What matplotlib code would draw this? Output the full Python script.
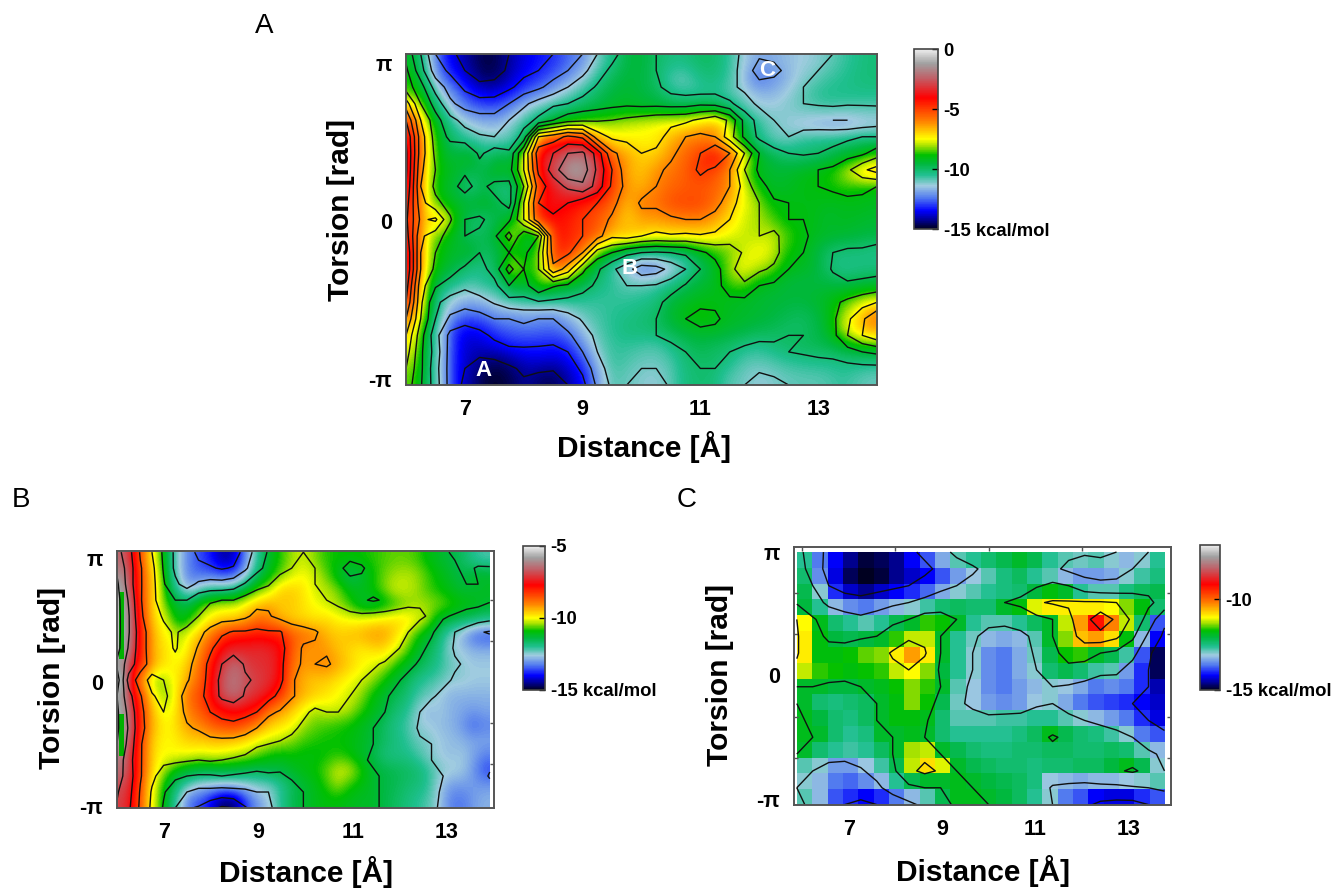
import numpy as np
import matplotlib
matplotlib.use('Agg')
import matplotlib.pyplot as plt
from matplotlib.colors import LinearSegmentedColormap, Normalize

plt.rcParams['font.family'] = ['Liberation Sans', 'DejaVu Sans']
plt.rcParams['contour.negative_linestyle'] = 'solid'

W, H = 1342, 890

# free energy, rows run from +pi (top) to -pi (bottom)
energy_a = np.array([
    [-9.3,-11,-13,-13.8,-14.3,-14.8,-14.6,-14,-13.6,-13.3,-13,-12.5,-12,-11,-10.3,-9.6,-9.5,-10,-10.3,-10.3,-10,-10,-10.5,-11.3,-11.8,-11.8,-11.6,-11.4,-11.3,-11,-10.7,-10.4,-10.2],
    [-8.8,-10.6,-12.5,-13.2,-14,-14.6,-14.5,-13.8,-13.3,-13,-12.5,-12,-11.3,-10.4,-9.8,-9.5,-9.6,-10,-10.8,-11,-10.4,-10.2,-10.6,-11.4,-12.5,-12.2,-11.8,-11.3,-11,-10.7,-10.5,-10.3,-10.2],
    [-8.5,-9.6,-11.4,-12.4,-13.2,-13.7,-13.6,-13.2,-12.6,-12.2,-11.6,-11,-10.4,-9.9,-9.5,-9.4,-9.6,-9.8,-10.4,-10.6,-10.6,-10.5,-10.8,-11.2,-11.6,-11.7,-11.4,-11,-10.6,-10.4,-10.4,-10.4,-10.4],
    [-6.5,-9,-10.4,-11.8,-12.4,-12.6,-12.6,-12,-11.2,-10.6,-10.2,-10,-9.7,-9.5,-9.3,-9.2,-9.3,-9.3,-9.4,-9.4,-9.2,-9.3,-9.8,-10.6,-11.2,-11.3,-11.2,-11,-10.9,-10.8,-10.9,-10.9,-10.9],
    [-5,-8,-9.6,-10.7,-11.3,-11.6,-11.6,-11,-10.4,-9.8,-9,-8.4,-8.2,-8.1,-8,-7.8,-7.6,-7.4,-7.3,-7.2,-6.8,-6.3,-7.2,-9.3,-10.4,-11,-11.3,-11.6,-11.8,-12,-12,-11.8,-11.6],
    [-4,-7.5,-9.4,-10.2,-10.6,-10.9,-11,-10.8,-9.6,-5,-4.5,-3.8,-4.2,-6.5,-7.2,-7.3,-7.4,-7.4,-6.6,-6,-5.8,-6,-7.6,-9.2,-10.2,-10.8,-11,-10.6,-10.4,-10.3,-10.2,-10,-10],
    [-3.8,-7.5,-9.2,-9.5,-9,-10.2,-9.5,-9.8,-7,-3.4,-3,-2,-1.8,-3.4,-5.8,-6.4,-7,-6.8,-6.2,-5.6,-5,-4,-5,-7,-9,-9.6,-10,-10.1,-10,-9.8,-9.4,-9.2,-8.5],
    [-3.8,-7.8,-9,-9.3,-9.8,-9.6,-9,-9.4,-7,-3.8,-2.6,-1,-1.4,-3.2,-5,-6.6,-6.8,-6.2,-5.8,-5.5,-4.8,-5.2,-6,-8,-9.2,-9.4,-9.4,-9.2,-9,-8.8,-8.2,-7.2,-6.6],
    [-4,-8,-9.2,-9.6,-10.4,-9.6,-10.4,-10.3,-8,-4.5,-3.5,-2.8,-2.2,-3.4,-5.2,-6.3,-6.6,-6,-5.6,-5.4,-5.4,-5.5,-6,-7.4,-8.7,-9.3,-9.3,-9.1,-9,-8.9,-8.7,-8.9,-9],
    [-4.5,-7.6,-8.8,-9.3,-9.4,-9.2,-9.6,-10.4,-7,-4,-3.8,-4,-4.6,-5,-5.6,-6.8,-5.8,-5.8,-5.2,-5.1,-5.1,-5.6,-6.6,-7.5,-8,-8.9,-9,-9.1,-9.1,-9.2,-9.2,-9.1,-9.2],
    [-4.8,-7.2,-6.8,-8.9,-10,-10.2,-9.6,-9.2,-7,-4.2,-4.1,-4.5,-5,-5.4,-6.2,-7,-6.4,-6.4,-6.2,-6,-6,-6.4,-7,-7.7,-8,-8.4,-9,-9,-9.1,-9.4,-9.2,-9.3,-9.4],
    [-4.5,-7.8,-8.6,-9.4,-10,-9.8,-9.2,-7.6,-9.8,-9,-4.2,-4.6,-5,-5.6,-6.8,-6.6,-7,-7.2,-7.1,-7.2,-7.1,-7.2,-7.6,-7.8,-8,-7.8,-8.4,-8.9,-9.2,-9.3,-9.4,-9.5,-9.6],
    [-4,-8,-9,-9.4,-9.2,-10,-9.6,-9,-9.3,-8,-4.6,-4.8,-6,-8.5,-9,-9.7,-10,-10.1,-10,-9.8,-9.2,-8.7,-8.4,-7.9,-7.4,-7.6,-8.7,-9,-9.4,-10,-10.2,-10.2,-10.4],
    [-4,-8,-9.2,-9.6,-10.2,-10.4,-9.6,-7.6,-9,-8,-5.2,-6.5,-8.8,-9.8,-10.8,-11.6,-12.6,-12.4,-11.7,-11,-10,-9.4,-8.3,-7.4,-7.8,-8.2,-9,-9.2,-9.4,-10.1,-10.5,-10.4,-10.3],
    [-4.5,-8.6,-9.9,-10.4,-10.8,-10.4,-10.3,-9,-9.4,-8.2,-8.9,-9.2,-9.6,-10.2,-10.6,-11,-11,-10.9,-10.5,-9.9,-9.5,-9.3,-8.6,-8.2,-9,-9.2,-9.5,-9.6,-9.6,-9.6,-9.8,-9.7,-9.6],
    [-5,-8.8,-10.8,-11.4,-11.6,-11.4,-10.9,-10.4,-10.3,-10.1,-10.2,-10.3,-10.5,-10.6,-10.6,-10.6,-10.5,-10.3,-9.6,-9.4,-9.2,-9.1,-9.2,-9.3,-9.4,-9.5,-9.5,-9.5,-9.4,-9.2,-8.8,-8.4,-8],
    [-6,-9,-11,-12.2,-12.6,-12.4,-12,-12,-11.8,-12,-12,-11.4,-10.9,-10.7,-10.5,-10.4,-10.2,-10,-9.4,-9,-8.7,-8.9,-9.2,-9.3,-9.4,-9.5,-9.7,-9.9,-9.7,-9.2,-8.2,-7.2,-6],
    [-7,-9.6,-11.6,-13.3,-13.6,-13.3,-12.8,-12.6,-12.5,-12.6,-12.6,-12.2,-11.4,-10.8,-10.5,-10.2,-10.2,-10,-9.7,-9.4,-9.3,-9.2,-9.4,-9.5,-9.7,-9.8,-10,-10,-9.8,-9.3,-8,-7,-6.3],
    [-7.5,-9.8,-11.4,-13.4,-13.9,-13.8,-13.5,-13.2,-13.2,-13.2,-13.3,-13,-12,-11,-10.6,-10.6,-10.7,-10.8,-10.4,-10,-9.7,-9.9,-10,-10.3,-10.5,-10.3,-10,-9.9,-9.8,-9.7,-9.4,-9,-8.8],
    [-8,-9.8,-11.6,-13.4,-14,-14.4,-14.6,-14.2,-13.8,-13.8,-13.9,-13.5,-12.8,-11.4,-10.6,-10.8,-11,-11,-10.8,-10.2,-10,-10,-10.3,-10.8,-10.9,-10.8,-10.6,-10.5,-10.4,-10.4,-10.3,-10.3,-10.3],
    [-8.4,-9.9,-11.5,-13.4,-14.2,-14.8,-14.9,-14.6,-14.2,-14.6,-14.6,-14,-13.3,-11.8,-10.8,-11,-11.2,-11.3,-10.9,-10.3,-10.1,-10.2,-10.8,-11,-11.3,-11.2,-11,-10.9,-10.9,-10.8,-10.6,-10.8,-11],
])

energy_b = np.array([
    [-6.5,-7.6,-9.2,-10.2,-11.5,-12.6,-13.3,-13.6,-14,-14.5,-14.2,-13,-12,-11.2,-10.8,-10.4,-10.2,-10.5,-10.8,-10.9,-10.9,-10.9,-10.8,-10.7,-10.6,-10.6,-10.7,-11,-11.2,-11.4,-11.6,-12,-12.2],
    [-6,-7.4,-9,-9.9,-11.4,-12.6,-13.3,-13.4,-13.4,-13.6,-13.4,-12.6,-11.6,-11,-10.6,-10.2,-10,-10.2,-10.6,-11.1,-11.6,-11.4,-11,-10.6,-10.4,-10.3,-10.4,-10.7,-11,-11.2,-11.5,-11.2,-11.2],
    [-5.6,-7.4,-9,-9.8,-11.2,-12.2,-12.8,-12.2,-12,-12,-11.8,-11.2,-10.6,-10.3,-9.6,-9.6,-9.8,-10.2,-10.3,-10.5,-11,-11.1,-10.9,-10.6,-10.2,-10.2,-10.4,-10.7,-10.9,-11.1,-11.3,-11.3,-11.2],
    [-5.4,-7,-9,-9.9,-10.8,-11.3,-11.3,-10.6,-10.3,-10.2,-10.2,-9.8,-9.5,-9.3,-9.6,-9.6,-9.8,-10,-10.2,-10.4,-10.7,-11.2,-11.4,-11.2,-10.9,-10.6,-10.4,-10.4,-10.5,-10.7,-10.9,-11,-11.2],
    [-5.4,-6.8,-8.9,-9.8,-10.3,-11.2,-10.8,-10.2,-9.8,-9.6,-9.6,-9.3,-8.8,-9,-9.4,-9.6,-9.7,-9.8,-9.7,-9.9,-10,-10,-9.9,-9.8,-9.7,-9.7,-10,-10.4,-11.2,-11.4,-11.6,-11.7,-11.9],
    [-5.4,-6.8,-8.6,-9.6,-10,-10.3,-9.9,-9.4,-8.8,-8.2,-7.9,-7.9,-7.8,-7.9,-7.9,-8.6,-8.8,-9,-9.4,-9.6,-9.5,-9.4,-9.2,-9.2,-9.6,-10.2,-10.8,-11.2,-11.7,-12.4,-12.8,-13.4,-13.6],
    [-5.4,-7,-8.6,-9.6,-9.8,-10.3,-9.7,-9,-8.2,-7.4,-7.3,-7.3,-7.2,-7.3,-7.6,-8.6,-9.2,-9.2,-9.2,-9.5,-9.7,-9.9,-9.8,-9.7,-10.1,-10.5,-11.1,-11.5,-11.9,-12.5,-12.6,-12.8,-12.8],
    [-6,-7.4,-8.6,-9.5,-9.9,-9.9,-9.4,-8.7,-7.7,-6.9,-6.4,-7,-7.2,-7.2,-7.7,-8.8,-9.2,-9.1,-9,-9.3,-9.6,-9.9,-10.1,-10.3,-10.7,-11.1,-11.4,-11.7,-12,-12.3,-12.5,-12.6,-12.6],
    [-5.2,-8.4,-9.6,-10.6,-10.2,-9.8,-9.2,-8.6,-7.6,-6.6,-6.3,-6.8,-7,-7.2,-7.7,-9,-9.4,-9.6,-9.6,-9.8,-10,-10.2,-10.4,-10.8,-11.2,-11.5,-11.9,-12.1,-12.2,-12.5,-12.5,-12.6,-12.6],
    [-5.8,-7.6,-9,-10.1,-10.5,-9.6,-8.7,-8.4,-7.5,-6.7,-6.4,-7,-7.2,-7.6,-8.3,-9,-9.4,-9.6,-9.8,-10,-10.2,-10.4,-10.9,-11.2,-11.5,-11.7,-12.1,-12.3,-12.6,-12.8,-12.8,-12.8,-12.8],
    [-5.6,-7.2,-8.8,-9.8,-10.2,-9.6,-8.9,-8.5,-8,-7.7,-7.6,-7.7,-8,-8.9,-9.2,-9.6,-10,-10.4,-10.2,-10.2,-10.3,-10.7,-11,-11.3,-11.7,-11.9,-12.4,-12.8,-12.6,-12.8,-12.9,-13,-12.9],
    [-5.6,-7,-8.8,-9.6,-10,-9.6,-9.2,-9,-8.6,-8.4,-8.3,-8.6,-9.1,-9.6,-9.8,-10,-10.4,-10.6,-10.7,-10.8,-10.9,-11.1,-11.3,-11.6,-11.9,-12.1,-12.5,-12.6,-12.7,-12.8,-13,-13.4,-13.2],
    [-5.8,-7.2,-9,-9.8,-10,-9.8,-9.6,-9.6,-9.5,-9.5,-9.6,-9.8,-10.1,-10.2,-10.3,-10.5,-10.7,-10.8,-10.9,-10.9,-11,-11.1,-11.3,-11.6,-11.8,-12,-12.3,-12.4,-12.6,-12.7,-12.8,-12.9,-12.9],
    [-6.2,-7.5,-9,-9.9,-10,-10,-10.1,-10.2,-10.1,-10.2,-10.3,-10.4,-10.6,-10.9,-11,-10.9,-11,-11,-10.9,-10.8,-10.9,-11.2,-11.4,-11.8,-11.9,-11.9,-12.1,-12.4,-12.6,-12.7,-12.6,-12.9,-13.2],
    [-6.4,-7.4,-9,-10,-10.6,-11.1,-11.3,-11.4,-11.4,-11.3,-11.4,-11.5,-11.6,-11.4,-11.4,-11.2,-11,-10.9,-10.6,-10.2,-10.2,-10.7,-11.2,-11.4,-11.5,-11.6,-11.7,-12,-12.4,-12.5,-12.6,-13,-13.6],
    [-6.8,-7.6,-9.2,-10.3,-11.2,-11.9,-12.4,-12.7,-12.7,-12.8,-12.7,-12.6,-12.4,-12.4,-12,-11.6,-11.3,-11.1,-10.8,-10.4,-10.8,-11,-11.2,-11.4,-11.5,-11.7,-11.8,-12,-12.6,-13,-13,-13,-13],
    [-7,-7.8,-9.3,-10.4,-11.4,-12.4,-13.4,-13.6,-14.2,-14.8,-14.6,-13.6,-13,-12.6,-12,-11.5,-11.3,-11.1,-11,-11,-11.1,-11.2,-11.2,-11.4,-11.6,-11.8,-12,-12.2,-12.6,-13.2,-13.3,-13,-12.8],
])

energy_c = np.array([
    [-12.6,-13.6,-14.2,-14.6,-14.9,-14.8,-14.6,-14.2,-13.8,-13.3,-12.8,-12.6,-12.4,-12.2,-12,-12.2,-12.6,-12.8,-12.9,-12.8,-13,-13.2,-13,-12.6],
    [-12.4,-13.5,-14.3,-14.8,-15,-14.9,-14.6,-14.4,-14.2,-13.8,-13.4,-13.1,-12.8,-12.5,-12.3,-12.6,-12.8,-13.2,-13.4,-13.4,-13.3,-13,-12.7,-12.5],
    [-12.2,-13,-14,-14.4,-14.6,-14.4,-14.2,-14,-13.7,-13.3,-13,-12.8,-12.6,-12.5,-12.4,-12.1,-11.8,-12,-12.6,-12.8,-12.8,-12.5,-12.3,-12.2],
    [-12.1,-12.6,-13.2,-13.5,-13.6,-13.4,-13.2,-13,-12.7,-12.4,-12.3,-12.4,-12.4,-12,-11.8,-11.1,-10.9,-10.9,-10.9,-10.9,-11,-11.4,-11.8,-12.4],
    [-11,-11.9,-12.4,-12.6,-12.8,-12.6,-12.2,-12,-11.6,-11.7,-12,-12.6,-12.8,-12.8,-12.6,-12.3,-12,-11.2,-10.4,-9.3,-10.2,-11.2,-12.4,-13.8],
    [-10.9,-11.8,-12.1,-12.2,-12.1,-12,-11.6,-11.2,-11.2,-12,-12.6,-12.9,-13.2,-13.3,-13.2,-12.8,-12,-11.4,-10.6,-10.4,-10.8,-11.8,-13.2,-14.2],
    [-10.9,-11.8,-11.8,-11.7,-11.5,-11.4,-10.9,-10.4,-10.9,-12,-12.6,-13,-13.5,-13.6,-13.3,-12.9,-12.2,-11.7,-11.6,-12,-12.2,-12.7,-13.8,-14.8],
    [-11.2,-11.6,-11.7,-11.8,-11.7,-11.6,-11.2,-11,-11.4,-12.1,-12.6,-13,-13.5,-13.6,-13.3,-13,-12.4,-12.2,-12.4,-12.7,-12.8,-13.4,-14,-14.8],
    [-12,-12,-12.1,-12.1,-12,-11.9,-11.7,-11.4,-11.6,-12,-12.8,-13.1,-13.5,-13.6,-13.4,-13.2,-13,-13.1,-13.3,-13.6,-13.5,-13.6,-14,-14.5],
    [-12,-12.4,-12.5,-12.4,-12.3,-12,-11.8,-11.4,-11.7,-12.2,-12.9,-13.1,-13.4,-13.5,-13.4,-13.1,-13,-13.3,-13.6,-13.8,-13.9,-14,-14.2,-14.4],
    [-11.9,-12.1,-12.4,-12.5,-12.3,-12,-11.8,-11.8,-11.9,-12.4,-12.8,-12.8,-12.8,-12.7,-12.7,-12.6,-12.6,-12.8,-13,-13.2,-13.4,-13.6,-14,-14.3],
    [-11.9,-12,-12.4,-12.6,-12.5,-12,-12,-11.9,-12,-12.4,-12.6,-12.6,-12.6,-12.6,-12.5,-12.3,-11.9,-12.2,-12.4,-12.5,-12.7,-13,-13.6,-13.8],
    [-12,-12.4,-12.6,-12.7,-12.6,-12.3,-12,-11.3,-11.2,-12,-12.2,-12.4,-12.5,-12.5,-12.4,-12.4,-12.3,-12.3,-12.4,-12.4,-12.3,-12.4,-12.8,-13.2],
    [-12.8,-13,-13.4,-13.4,-13.1,-12.7,-12.2,-11.2,-10.8,-11.1,-12,-12.2,-12.3,-12.4,-12.4,-12.5,-12.4,-12.4,-12.3,-12.3,-12.1,-11.9,-12.2,-13],
    [-13,-13.2,-13.6,-13.7,-13.5,-13.2,-12.6,-12.2,-12,-12,-11.9,-12,-12.1,-12.2,-12.3,-12.5,-13.1,-13.2,-13.3,-13.2,-13.2,-13.1,-13,-12.8],
    [-12.8,-13.2,-13.8,-14,-14.2,-14,-13.6,-13.2,-12.8,-12.2,-11.9,-11.9,-12,-12.1,-12.3,-12.6,-13,-13.6,-13.8,-14.2,-14.3,-14.3,-14,-13.8],
])

levels_a = [-14, -13, -12, -11, -10, -9, -8, -7, -6, -5, -4, -3, -2]
levels_b = [-14.6, -13.5, -12.4, -11.3, -10.2, -9.1, -8, -6.9, -5.8]
levels_c = [-14, -13, -12, -11, -10]

# the two green slivers on the left edge of panel B, torsion from / to
sliver_b = [(0.59, 2.3), (-1.87, -0.82)]

x_tick_vals = [7, 9, 11, 13]
x_tick_labels = ['7', '9', '11', '13']
y_tick_labels = ['-π', '0', 'π']

cb_ticks_a = [0, -5, -10, -15]
cb_labels_a = ['0', '-5', '-10', '-15 kcal/mol']
cb_ticks_b = [-5, -10, -15]
cb_labels_b = ['-5', '-10', '-15 kcal/mol']
cb_ticks_c = [-10, -15]
cb_labels_c = ['-10', '-15 kcal/mol']

# colour scale, 0 = bottom of the bar, 1 = top
cmap = LinearSegmentedColormap.from_list('rainbow_grey', [
    (0.00, '#000020'), (0.04, '#000080'), (0.10, '#0000ff'), (0.17, '#5078f0'),
    (0.24, '#a0cce0'), (0.30, '#20c090'), (0.36, '#00b840'), (0.41, '#00c000'),
    (0.46, '#a0e000'), (0.50, '#ffff00'), (0.60, '#ff8000'), (0.73, '#ff0000'),
    (0.84, '#c06068'), (0.92, '#a0a0a0'), (1.00, '#eeeeee'),
])

fig = plt.figure(figsize=(W / 100, H / 100), dpi=100)


def box(x0, y0, x1, y1):
    return fig.add_axes([x0 / W, 1 - y1 / H, (x1 - x0) / W, (y1 - y0) / H])


def px_text(x, y, s, **kw):
    kw.setdefault('ha', 'center')
    kw.setdefault('va', 'center')
    fig.text(x / W, 1 - y / H, s, **kw)


def panel(rect, xlim, ylim, extent, energy, levels, vmin, vmax, interp):
    ax = box(*rect)
    im = ax.imshow(energy[::-1], origin='lower', extent=extent, aspect='auto',
                   cmap=cmap, norm=Normalize(vmin, vmax), interpolation=interp)
    xs = np.linspace(extent[0], extent[1], energy.shape[1])
    ys = np.linspace(extent[2], extent[3], energy.shape[0])
    ax.contour(xs, ys, energy[::-1], levels=levels, colors='#101010', linewidths=1.0,
               linestyles='solid')
    ax.set_xlim(*xlim)
    ax.set_ylim(*ylim)
    ax.set_xticks(x_tick_vals)
    ax.set_xticklabels(x_tick_labels, fontsize=15.5, fontweight='bold')
    ax.set_yticks([-np.pi, 0, np.pi])
    ax.set_yticklabels(y_tick_labels, fontsize=15.5, fontweight='bold')
    ax.tick_params(axis='both', length=0, pad=10)
    for sp in ax.spines.values():
        sp.set_color('#555555')
        sp.set_linewidth(1.4)
    return ax, im


def colorbar(im, rect, ticks, labels):
    cax = box(*rect)
    cb = fig.colorbar(im, cax=cax)
    cb.set_ticks(ticks)
    cb.set_ticklabels(labels)
    cax.tick_params(axis='y', direction='in', length=4, width=1, pad=4, labelsize=13.3)
    for t in cax.get_yticklabels():
        t.set_fontweight('bold')
    cb.outline.set_edgecolor('#444444')
    cb.outline.set_linewidth(1.2)


# panel A
ext_a = (6, 14, -3.26, 3.32)
ax_a, im_a = panel((406, 54, 877, 385), (6, 14), (-3.26, 3.32), ext_a, energy_a, levels_a,
                   -15, 0, 'bicubic')
colorbar(im_a, (914, 49, 938, 229), cb_ticks_a, cb_labels_a)
px_text(483, 370, 'A', color='white', fontsize=16, fontweight='bold')
px_text(630, 269, 'B', color='white', fontsize=16, fontweight='bold')
px_text(767, 71, 'C', color='white', fontsize=16, fontweight='bold')
px_text(644, 447, 'Distance [Å]', fontsize=21.5, fontweight='bold')
px_text(341, 210, 'Torsion [rad]', fontsize=21.5, fontweight='bold', rotation=90)
px_text(264, 26, 'A', fontsize=20)

# panel B, the data stop a little short of the right edge
ext_b = (6, 13.91, -3.2, 3.3)
ax_b, im_b = panel((117, 551, 494, 808), (6, 14), (-3.2, 3.33), ext_b, energy_b, levels_b,
                   -15, -5, 'bicubic')
for t0, t1 in sliver_b:
    ax_b.fill_betweenx([t0, t1], 6.05, 6.15, color='#00b000', lw=0)
ax_b.set_yticks(np.arange(-3, 4) * np.pi / 3, minor=True)
ax_b.yaxis.set_tick_params(which='minor', right=True, left=False, direction='in', length=3,
                           width=1, color='#555555')
colorbar(im_b, (523, 546, 545, 690), cb_ticks_b, cb_labels_b)
px_text(306, 872, 'Distance [Å]', fontsize=21.5, fontweight='bold')
px_text(52, 678, 'Torsion [rad]', fontsize=21.5, fontweight='bold', rotation=90)
px_text(21, 500, 'B', fontsize=20)

# panel C, blocky cells with a margin inside the frame
ext_c = (5.88, 13.78, -3.29, np.pi)
ax_c, im_c = panel((794, 547, 1171, 805), (5.82, 13.92), (-3.3, 3.27), ext_c, energy_c, levels_c,
                   -15, -7, 'nearest')
ax_c.set_xticks(np.arange(6, 14), minor=True)
ax_c.set_yticks(np.arange(-3, 4) * np.pi / 3, minor=True)
ax_c.tick_params(which='minor', top=True, bottom=False, left=True, right=True, direction='in',
                 length=3, width=1, color='#555555')
colorbar(im_c, (1200, 545, 1220, 690), cb_ticks_c, cb_labels_c)
px_text(983, 871, 'Distance [Å]', fontsize=21.5, fontweight='bold')
px_text(720, 675, 'Torsion [rad]', fontsize=21.5, fontweight='bold', rotation=90)
px_text(687, 500, 'C', fontsize=20)

fig.savefig('out.png', dpi=100)
